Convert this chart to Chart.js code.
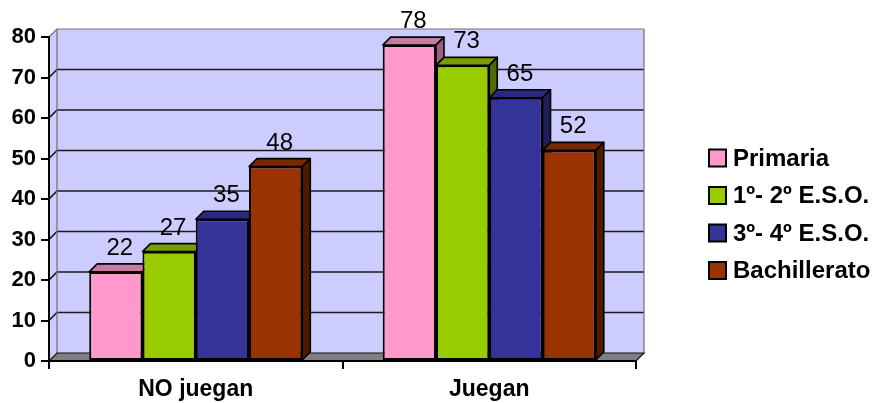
<!DOCTYPE html>
<html>
<head>
<meta charset="utf-8">
<script src="https://cdn.jsdelivr.net/npm/chart.js@4.4.0/dist/chart.umd.min.js"></script>
<style>
  html, body { margin: 0; padding: 0; background: #ffffff; }
  #wrap { width: 877px; height: 403px; position: relative; }
</style>
</head>
<body>
<div id="wrap"><canvas id="chart" width="877" height="403"></canvas></div>
<script>
// Categories and series
const categories = ['NO juegan', 'Juegan'];
const seriesNames = ['Primaria', '1\u00BA- 2\u00BA E.S.O.', '3\u00BA- 4\u00BA E.S.O.', 'Bachillerato'];
const primaria = [22, 78];
const eso12 = [27, 73];
const eso34 = [35, 65];
const bachillerato = [48, 52];
const yMin = 0, yMax = 80, yStep = 10;

const seriesValues = [primaria, eso12, eso34, bachillerato];
const frontColors = ['#FF99CC', '#99CC00', '#333399', '#993300'];
const topColors   = ['#C97AA0', '#7A9E00', '#292980', '#7A2800'];
const sideColors  = ['#9E6080', '#4F6A00', '#1E1E58', '#4F1A00'];

const DEPTH = 8;               // oblique depth of the 3D walls and bars
const WALL = '#CCCCFF';
const FLOOR = '#808080';
const FONT = '"Liberation Sans", Arial, sans-serif';

// Back wall, side wall, floor and wall gridlines
const wallPlugin = {
  id: 'wall3d',
  beforeDraw(chart) {
    const { ctx, chartArea: a, scales: { y } } = chart;
    const d = DEPTH;
    ctx.save();
    // back wall
    ctx.fillStyle = WALL;
    ctx.fillRect(a.left + d, a.top - d, a.right - a.left, a.bottom - a.top);
    // left wall
    ctx.beginPath();
    ctx.moveTo(a.left, a.top);
    ctx.lineTo(a.left + d, a.top - d);
    ctx.lineTo(a.left + d, a.bottom - d);
    ctx.lineTo(a.left, a.bottom);
    ctx.closePath();
    ctx.fill();
    // gridlines across side and back wall
    for (let v = yMin + yStep; v <= yMax; v += yStep) {
      const py = y.getPixelForValue(v);
      ctx.beginPath();
      ctx.moveTo(a.left, py);
      ctx.lineTo(a.left + d, py - d);
      ctx.lineTo(a.right + d, py - d);
      ctx.strokeStyle = v === yMax ? '#707070' : '#1a1a1a';
      ctx.lineWidth = v === yMax ? 1.2 : 1.7;
      ctx.stroke();
    }
    // back wall edges
    ctx.strokeStyle = '#707070';
    ctx.lineWidth = 1.2;
    ctx.beginPath();
    ctx.moveTo(a.left + d, a.top - d);
    ctx.lineTo(a.left + d, a.bottom - d);
    ctx.moveTo(a.right + d, a.top - d);
    ctx.lineTo(a.right + d, a.bottom - d);
    ctx.stroke();
    // floor
    ctx.beginPath();
    ctx.moveTo(a.left, a.bottom);
    ctx.lineTo(a.left + d, a.bottom - d);
    ctx.lineTo(a.right + d, a.bottom - d);
    ctx.lineTo(a.right, a.bottom);
    ctx.closePath();
    ctx.fillStyle = FLOOR;
    ctx.fill();
    ctx.strokeStyle = '#111';
    ctx.lineWidth = 1.2;
    ctx.stroke();
    ctx.restore();
  },
  // top and side faces of every bar, left to right so neighbours overlap correctly
  beforeDatasetsDraw(chart) {
    const { ctx } = chart;
    const d = DEPTH;
    ctx.save();
    ctx.lineWidth = 1.6;
    ctx.strokeStyle = '#000';
    ctx.lineJoin = 'round';
    for (let j = 0; j < categories.length; j++) {
      for (let i = 0; i < seriesValues.length; i++) {
        const bar = chart.getDatasetMeta(i).data[j];
        if (!bar) continue;
        const { x, y, base, width } = bar.getProps(['x', 'y', 'base', 'width'], true);
        const l = x - width / 2, r = x + width / 2;
        // top face
        ctx.beginPath();
        ctx.moveTo(l, y);
        ctx.lineTo(l + d, y - d);
        ctx.lineTo(r + d, y - d);
        ctx.lineTo(r, y);
        ctx.closePath();
        ctx.fillStyle = topColors[i];
        ctx.fill();
        ctx.stroke();
        // side face
        ctx.beginPath();
        ctx.moveTo(r, y);
        ctx.lineTo(r + d, y - d);
        ctx.lineTo(r + d, base - d);
        ctx.lineTo(r, base);
        ctx.closePath();
        ctx.fillStyle = sideColors[i];
        ctx.fill();
        ctx.stroke();
      }
    }
    ctx.restore();
  },
  // value labels above the bars
  afterDatasetsDraw(chart) {
    const { ctx } = chart;
    ctx.save();
    ctx.font = '24px ' + FONT;
    ctx.fillStyle = '#000';
    ctx.textAlign = 'center';
    ctx.textBaseline = 'alphabetic';
    for (let i = 0; i < seriesValues.length; i++) {
      chart.getDatasetMeta(i).data.forEach((bar, j) => {
        const { x, y } = bar.getProps(['x', 'y'], true);
        ctx.fillText(String(seriesValues[i][j]), x + DEPTH / 2, y - DEPTH - 9);
      });
    }
    ctx.restore();
  },
  // legend on the right
  afterDraw(chart) {
    const { ctx } = chart;
    ctx.save();
    ctx.font = 'bold 24px ' + FONT;
    ctx.textBaseline = 'middle';
    ctx.textAlign = 'left';
    seriesNames.forEach((name, i) => {
      const yc = 158 + i * 37.5;
      ctx.fillStyle = frontColors[i];
      ctx.fillRect(709, yc - 8.5, 17, 17);
      ctx.strokeStyle = '#000';
      ctx.lineWidth = 2;
      ctx.strokeRect(709, yc - 8.5, 17, 17);
      ctx.fillStyle = '#000';
      ctx.fillText(name, 733, yc + 1);
    });
    ctx.restore();
  }
};

const datasets = seriesValues.map((vals, i) => ({
  label: seriesNames[i],
  data: vals,
  backgroundColor: frontColors[i],
  borderColor: '#000',
  borderWidth: 2,
  borderSkipped: false,
  categoryPercentage: 0.726,
  barPercentage: 1.0
}));

new Chart(document.getElementById('chart'), {
  type: 'bar',
  data: { labels: categories, datasets },
  options: {
    responsive: false,
    animation: false,
    layout: { padding: { top: 37, right: 241, left: 0, bottom: 0 } },
    plugins: { legend: { display: false }, tooltip: { enabled: false } },
    scales: {
      x: {
        afterFit(scale) { scale.height = 42; },
        grid: { offset: true, drawOnChartArea: false, drawTicks: true, tickLength: 8, color: '#000', lineWidth: 2 },
        border: { display: true, color: '#000', width: 2 },
        ticks: { color: '#000', padding: 7, font: { family: FONT, size: 23, weight: 'bold' } }
      },
      y: {
        min: yMin,
        max: yMax,
        afterFit(scale) { scale.width = 49; },
        grid: { drawOnChartArea: false, drawTicks: true, tickLength: 8, color: '#000', lineWidth: 2 },
        border: { display: true, color: '#000', width: 2 },
        ticks: { stepSize: yStep, color: '#000', padding: 5, font: { family: FONT, size: 22, weight: 'bold' } }
      }
    }
  },
  plugins: [wallPlugin]
});
</script>
</body>
</html>
